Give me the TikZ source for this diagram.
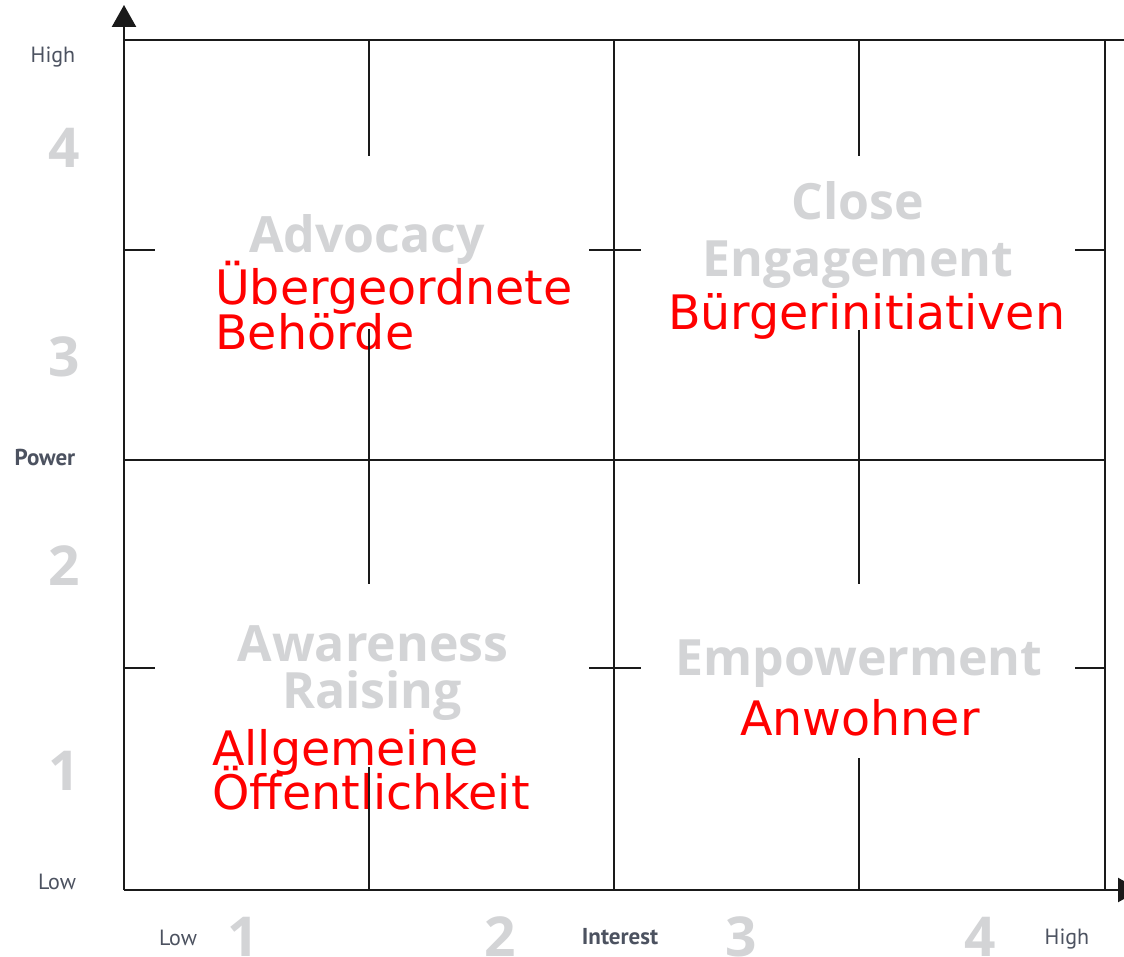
\documentclass[tikz,border=0pt]{standalone}
\usepackage{fontspec}
\setmainfont{DejaVu Sans}
\newfontfamily\hdrfont{PT Sans}
\newfontfamily\bigfont{Open Sans}
\usetikzlibrary{arrows.meta}
\definecolor{gridc}{HTML}{1A1A1A}
\definecolor{hdrgray}{HTML}{D3D4D6}
\definecolor{axlab}{HTML}{4C5260}
\definecolor{redtxt}{HTML}{FF0000}
\tikzset{
  axisline/.style={draw=gridc, line width=2.4pt},
  gridline/.style={draw=gridc, line width=1.5pt},
  redlabel/.style={text=redtxt, inner sep=0pt, anchor=base west, font=\fontsize{47.5}{44}\selectfont},
  hdrlabel/.style={text=hdrgray, inner sep=0pt, anchor=base, font=\bigfont\bfseries\fontsize{50}{56}\selectfont},
  numlabel/.style={text=hdrgray, inner sep=0pt, anchor=base, font=\bigfont\bfseries\fontsize{55}{60}\selectfont},
  axlabel/.style={text=axlab, inner sep=0pt, anchor=base, font=\hdrfont\fontsize{22}{24}\selectfont},
  axlabelb/.style={axlabel, font=\hdrfont\bfseries\fontsize{23}{24}\selectfont},
}
\begin{document}
\begin{tikzpicture}[x=1pt,y=-1pt]
\useasboundingbox[fill=white] (0,0) rectangle (1124,957);

% red labels (under the lines)
\node[redlabel] (ub1) at (215,305) {Übergeordnete};
\node[redlabel] (ub2) at (215,349) {Behörde};
\node[redlabel] (bi)  at (668,330) {Bürgerinitiativen};
\node[redlabel] (al1) at (212,765) {Allgemeine};
\node[redlabel] (al2) at (212,809) {Öffentlichkeit};
\node[redlabel] (an)  at (740,735) {Anwohner};

% grey quadrant headers
\node[hdrlabel] (adv) at (367,253) {Advocacy};
\node[hdrlabel] (clo) at (858,220) {Close};
\node[hdrlabel] (eng) at (858,277) {Engagement};
\node[hdrlabel] (awa) at (373,661) {Awareness};
\node[hdrlabel] (rai) at (372,708) {Raising};
\node[hdrlabel] (emp) at (859,675) {Empowerment};

% scale numbers
\node[numlabel] (p4) at (64,168) {4};
\node[numlabel] (p3) at (64,377) {3};
\node[numlabel] (p2) at (64,585) {2};
\node[numlabel] (p1) at (64,790) {1};
\node[numlabel] (i1) at (243,956) {1};
\node[numlabel] (i2) at (500,956) {2};
\node[numlabel] (i3) at (741,956) {3};
\node[numlabel] (i4) at (980,956) {4};

% axis labels
\node[axlabel]  (phigh) at (53,63)   {High};
\node[axlabelb] (pow)   at (45,465)  {Power};
\node[axlabel]  (plow)  at (57,889)  {Low};
\node[axlabel]  (ilow)  at (178,945) {Low};
\node[axlabelb] (int)   at (620,944) {Interest};
\node[axlabel]  (ihigh) at (1067,944) {High};

% coordinates of the frame
\coordinate (O)  at (124,890);
\coordinate (TL) at (124,40);
\coordinate (TR) at (1124,40);
\coordinate (RT) at (1105,40);
\coordinate (RB) at (1105,890);

% grid
\draw[gridline] (TL) -- (TR);
\draw[gridline] (RT) -- (RB);
\draw[gridline] (614,40) -- (614,890);
\draw[gridline] (124,460) -- (1105,460);
% quarter segments
\draw[gridline] (369,40) -- (369,156);
\draw[gridline] (369,329) -- (369,584);
\draw[gridline] (369,767) -- (369,890);
\draw[gridline] (859,40) -- (859,156);
\draw[gridline] (859,330) -- (859,584);
\draw[gridline] (859,758) -- (859,890);
% ticks
\foreach \yy in {250,668}{
  \draw[gridline] (124,\yy) -- (155,\yy);
  \draw[gridline] (589,\yy) -- (641,\yy);
  \draw[gridline] (1075,\yy) -- (1105,\yy);
}
% axes
\draw[axisline, -{Triangle[width=24pt,length=22pt]}] (O) -- (124,5);
\draw[axisline, -{Triangle[width=24pt,length=22pt]}] (O) -- (1140,890);
\end{tikzpicture}
\end{document}
